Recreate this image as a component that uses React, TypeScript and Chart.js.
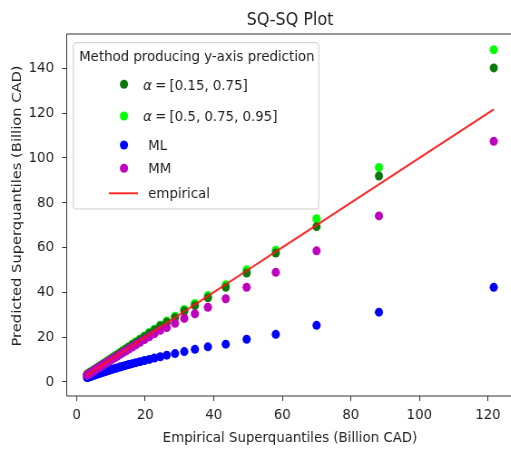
import React, { useEffect, useRef } from 'react';
import { Chart, registerables } from 'chart.js';

Chart.register(...registerables);

// Empirical superquantiles (x) and predicted superquantiles (y), Billion CAD
const empirical = [3.0, 3.2, 3.4, 3.6, 3.8, 4.0, 4.3, 4.6, 4.9, 5.2, 5.5, 5.9, 6.3, 6.7, 7.1, 7.6, 8.1, 8.6, 9.2, 9.8, 10.4, 11.1, 11.8, 12.6, 13.4, 14.3, 15.2, 16.2, 17.3, 18.5, 19.8, 21.2, 22.7, 24.4, 26.3, 28.7, 31.4, 34.5, 38.3, 43.5, 49.6, 58.1, 70.0, 88.2, 121.7];
const predAlpha2 = [3.1, 3.3, 3.5, 3.7, 3.9, 4.1, 4.4, 4.7, 5.0, 5.3, 5.6, 6.0, 6.4, 6.8, 7.2, 7.7, 8.2, 8.7, 9.3, 9.9, 10.5, 11.2, 11.9, 12.8, 13.6, 14.5, 15.4, 16.5, 17.6, 18.8, 20.1, 21.6, 23.1, 24.9, 26.6, 28.6, 31.6, 34.1, 37.5, 42.2, 48.6, 57.5, 69.3, 91.9, 140.2];
const predAlpha3 = [3.3, 3.5, 3.7, 3.9, 4.1, 4.3, 4.6, 4.9, 5.2, 5.5, 5.8, 6.2, 6.6, 7.0, 7.4, 7.9, 8.4, 8.9, 9.5, 10.1, 10.8, 11.5, 12.2, 13.0, 13.9, 14.8, 15.7, 16.8, 17.9, 19.1, 20.5, 22.0, 23.5, 25.3, 27.1, 29.3, 32.3, 35.0, 38.5, 43.3, 50.0, 58.7, 72.8, 95.7, 148.3];
const predML = [1.9, 2.0, 2.1, 2.2, 2.3, 2.4, 2.6, 2.75, 2.9, 3.05, 3.2, 3.4, 3.6, 3.8, 4.0, 4.25, 4.5, 4.7, 5.0, 5.3, 5.55, 5.9, 6.2, 6.55, 6.9, 7.3, 7.7, 8.1, 8.55, 9.0, 9.5, 10.0, 10.6, 11.2, 11.9, 12.6, 13.5, 14.5, 15.6, 16.8, 19.0, 21.2, 25.2, 31.1, 42.2];
const predMM = [2.95, 3.15, 3.35, 3.55, 3.75, 3.9, 4.2, 4.5, 4.8, 5.1, 5.4, 5.8, 6.2, 6.6, 6.95, 7.45, 7.9, 8.4, 9.0, 9.55, 10.1, 10.75, 11.4, 12.15, 12.9, 13.75, 14.6, 15.5, 16.55, 17.65, 18.85, 20.1, 21.5, 23.0, 24.2, 26.1, 28.3, 30.4, 33.3, 37.1, 42.2, 48.9, 58.5, 74.1, 107.4];

const TITLE = 'SQ-SQ Plot';
const X_TITLE = 'Empirical Superquantiles (Billion CAD)';
const Y_TITLE = 'Predicted Superquantiles (Billion CAD)';
const LEGEND_TITLE = 'Method producing y-axis prediction';
const LABEL_A2 = '[0.15, 0.75]';
const LABEL_A3 = '[0.5, 0.75, 0.95]';
const LABEL_ML = 'ML';
const LABEL_MM = 'MM';
const LABEL_EMP = 'empirical';

const C_DARK = '#0b780b';
const C_LIME = '#00ff00';
const C_BLUE = '#0000ff';
const C_MAG = '#bf00bf';
const C_RED = 'rgba(255,20,20,0.9)';

const SQ = 0.908; // horizontal squeeze of the reference
const W = 573;
const H = 450;
const FONT = '"DejaVu Sans", "Liberation Sans", sans-serif';
const FS = 14.7;
const R = 4.5;
const TEXT = '#222';

const pts = (ys: number[]) => empirical.map((x, i) => ({ x, y: ys[i] }));

const decor = {
  id: 'decor',
  beforeDraw(chart: any) {
    const { ctx } = chart;
    ctx.save();
    ctx.fillStyle = '#fff';
    ctx.fillRect(0, 0, chart.width, chart.height);
    ctx.restore();
  },
  afterDraw(chart: any) {
    const { ctx, chartArea: a } = chart;
    ctx.save();
    // spines: top, left, bottom (the right one lies outside the view)
    ctx.strokeStyle = '#333';
    ctx.lineWidth = 1;
    ctx.beginPath();
    ctx.moveTo(chart.width, a.top);
    ctx.lineTo(a.left, a.top);
    ctx.lineTo(a.left, a.bottom);
    ctx.lineTo(chart.width, a.bottom);
    ctx.stroke();

    ctx.fillStyle = TEXT;
    ctx.font = `17.6px ${FONT}`;
    ctx.textAlign = 'center';
    ctx.textBaseline = 'alphabetic';
    ctx.fillText(TITLE, (a.left + a.right) / 2, 25);

    // y-axis title
    ctx.save();
    ctx.translate(19.1, 206);
    ctx.rotate(-Math.PI / 2);
    ctx.font = `${FS}px ${FONT}`;
    ctx.textBaseline = 'middle';
    ctx.textAlign = 'center';
    ctx.fillText(Y_TITLE, 0, 0);
    ctx.restore();

    // legend box
    const bx = 80.7, by = 42.7, bw = 270.6, bh = 166.3;
    ctx.beginPath();
    if ((ctx as any).roundRect) (ctx as any).roundRect(bx, by, bw, bh, 3);
    else ctx.rect(bx, by, bw, bh);
    ctx.fillStyle = 'rgba(255,255,255,0.8)';
    ctx.fill();
    ctx.strokeStyle = '#cccccc';
    ctx.lineWidth = 1;
    ctx.stroke();

    ctx.textAlign = 'left';
    ctx.textBaseline = 'alphabetic';
    ctx.fillStyle = TEXT;
    ctx.font = `${FS}px ${FONT}`;
    ctx.fillText(LEGEND_TITLE, 87.2, 60.7);

    const mx = 136.6;
    const dot = (y: number, c: string) => {
      ctx.beginPath();
      ctx.arc(mx, y, R, 0, Math.PI * 2);
      ctx.fillStyle = c;
      ctx.fill();
    };
    const alphaLabel = (text: string, y: number) => {
      let x = 157.8;
      ctx.fillStyle = TEXT;
      ctx.font = `italic ${FS}px ${FONT}`;
      ctx.fillText('α', x, y);
      x += ctx.measureText('α').width + 3.5;
      ctx.font = `${FS}px ${FONT}`;
      ctx.fillText('=', x, y);
      x += ctx.measureText('=').width + 3.5;
      ctx.fillText(text, x, y);
    };
    dot(84.3, C_DARK);
    alphaLabel(LABEL_A2, 90);
    dot(116, C_LIME);
    alphaLabel(LABEL_A3, 120.7);
    dot(145, C_BLUE);
    ctx.fillStyle = TEXT;
    ctx.fillText(LABEL_ML, 163.3, 150);
    dot(168.3, C_MAG);
    ctx.fillStyle = TEXT;
    ctx.fillText(LABEL_MM, 163.3, 173.3);
    ctx.beginPath();
    ctx.moveTo(120, 193.3);
    ctx.lineTo(152, 193.3);
    ctx.strokeStyle = C_RED;
    ctx.lineWidth = 2;
    ctx.stroke();
    ctx.fillStyle = TEXT;
    ctx.fillText(LABEL_EMP, 163.3, 198);
    ctx.restore();
  },
};

export default function App() {
  const ref = useRef<HTMLCanvasElement | null>(null);
  useEffect(() => {
    if (!ref.current) return;
    const scatter = (label: string, ys: number[], color: string, order: number) => ({
      label,
      data: pts(ys),
      backgroundColor: color,
      borderColor: color,
      borderWidth: 0,
      pointRadius: R,
      pointHoverRadius: R,
      showLine: false,
      order,
    });
    const chart = new Chart(ref.current, {
      type: 'scatter',
      data: {
        datasets: [
          scatter('α = ' + LABEL_A3, predAlpha3, C_LIME, 4),
          scatter('α = ' + LABEL_A2, predAlpha2, C_DARK, 3),
          scatter(LABEL_ML, predML, C_BLUE, 2),
          scatter(LABEL_MM, predMM, C_MAG, 1),
          {
            label: LABEL_EMP,
            data: empirical.map((x) => ({ x, y: x })),
            showLine: true,
            borderColor: C_RED,
            borderWidth: 2,
            pointRadius: 0,
            order: 0,
          } as any,
        ],
      },
      options: {
        animation: false,
        responsive: false,
        devicePixelRatio: 1,
        layout: { padding: { left: 0, top: 34, right: 7.4, bottom: 0 } },
        plugins: {
          legend: { display: false },
          tooltip: { enabled: false },
          title: { display: false },
        },
        scales: {
          x: {
            type: 'linear',
            min: -2.9,
            max: 127.4,
            border: { display: false },
            grid: { drawOnChartArea: false, tickLength: 5, color: '#333', lineWidth: 1 },
            ticks: { stepSize: 20, includeBounds: false, padding: 5, color: TEXT, font: { family: FONT, size: FS } },
            title: { display: true, text: X_TITLE, color: TEXT, font: { family: FONT, size: FS }, padding: { top: 0, bottom: 3 } },
            afterFit: (s: any) => { s.height = 54; },
          },
          y: {
            type: 'linear',
            min: -6.35,
            max: 155.35,
            border: { display: false },
            grid: { drawOnChartArea: false, tickLength: 5, color: '#333', lineWidth: 1 },
            ticks: { stepSize: 20, includeBounds: false, padding: 9, color: TEXT, font: { family: FONT, size: FS } },
            title: { display: false },
            afterFit: (s: any) => { s.width = 73.5; },
          },
        },
      } as any,
      plugins: [decor],
    });
    return () => chart.destroy();
  }, []);
  return (
    <div style={{ position: 'fixed', left: 0, top: 0, width: 511, height: 450, overflow: 'hidden', background: '#fff' }}>
      <canvas
        ref={ref}
        width={W}
        height={H}
        style={{ width: `${W * SQ}px`, height: `${H}px`, display: 'block' }}
      />
    </div>
  );
}
